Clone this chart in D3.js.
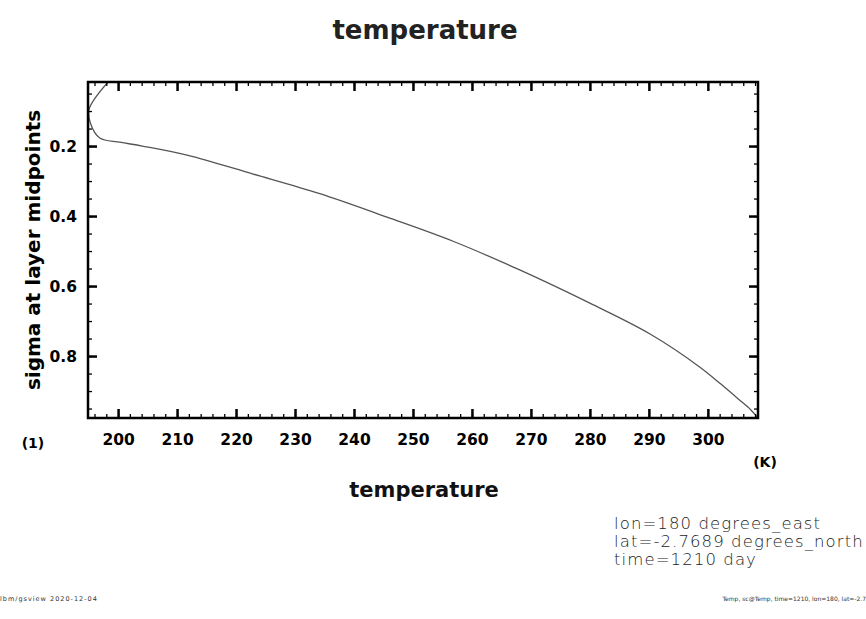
<!DOCTYPE html>
<html>
<head>
<meta charset="utf-8">
<script src="https://cdn.jsdelivr.net/npm/d3@7"></script>
<style>
  body { margin: 0; background: #fff; }
</style>
</head>
<body>
<svg id="chart"></svg>
<script>
// temperature profile (K) against sigma level
var sigma = [0.017, 0.094, 0.134, 0.177, 0.189, 0.200, 0.226, 0.280, 0.336, 0.403, 0.472, 0.554, 0.649, 0.737, 0.831, 0.880, 0.926, 0.954, 0.977];
var temp  = [198.3, 195.1, 195.3, 196.9, 200.3, 204.1, 211.7, 222.9, 234.2, 245.6, 256.8, 268.1, 280.0, 290.2, 298.6, 302.2, 305.4, 307.3, 308.5];

var xTicks = [200, 210, 220, 230, 240, 250, 260, 270, 280, 290, 300];
var yTicks = [0.2, 0.4, 0.6, 0.8];

var width = 866;
var height = 619;
var plot = { left: 88, right: 758, top: 82, bottom: 418 };

var svg = d3.select("#chart")
            .attr("width", width)
            .attr("height", height);

var xScale = d3.scaleLinear()
               .domain([194.9, 308.5])
               .range([plot.left, plot.right]);

var yScale = d3.scaleLinear()
               .domain([0.017, 0.977])
               .range([plot.top, plot.bottom]);

// clip for the line
svg.append("clipPath")
   .attr("id", "clip")
   .append("rect")
   .attr("x", plot.left)
   .attr("y", plot.top)
   .attr("width", plot.right - plot.left)
   .attr("height", plot.bottom - plot.top);

var data = sigma.map(function(s, i){ return { s: s, t: temp[i] }; });

var line = d3.line()
             .x(function(d){ return xScale(d.t); })
             .y(function(d){ return yScale(d.s); })
             .curve(d3.curveCatmullRom.alpha(0.5));

svg.append("path")
   .datum(data)
   .attr("clip-path", "url(#clip)")
   .attr("d", line)
   .attr("fill", "none")
   .attr("stroke", "#555")
   .attr("stroke-width", 1.3);

// minor ticks
var xMinor = d3.range(196, 309, 2);
var yMinor = d3.range(0.05, 0.97, 0.05);

// Adding axes, ticks point inward on all four sides
var xBottom = d3.axisBottom(xScale).tickValues(xMinor).tickSize(-4).tickFormat("");
var xTop = d3.axisTop(xScale).tickValues(xMinor).tickSize(-4).tickFormat("");
var yLeft = d3.axisLeft(yScale).tickValues(yMinor).tickSize(-4).tickFormat("");
var yRight = d3.axisRight(yScale).tickValues(yMinor).tickSize(-4).tickFormat("");

svg.append("g").attr("class", "minor").attr("transform", "translate(0," + plot.bottom + ")").call(xBottom);
svg.append("g").attr("class", "minor").attr("transform", "translate(0," + plot.top + ")").call(xTop);
svg.append("g").attr("class", "minor").attr("transform", "translate(" + plot.left + ",0)").call(yLeft);
svg.append("g").attr("class", "minor").attr("transform", "translate(" + plot.right + ",0)").call(yRight);

var xMajB = d3.axisBottom(xScale).tickValues(xTicks).tickSize(-9).tickPadding(16).tickFormat(d3.format("d"));
var xMajT = d3.axisTop(xScale).tickValues(xTicks).tickSize(-9).tickFormat("");
var yMajL = d3.axisLeft(yScale).tickValues(yTicks).tickSize(-9).tickPadding(11).tickFormat(d3.format(".1f"));
var yMajR = d3.axisRight(yScale).tickValues(yTicks).tickSize(-9).tickFormat("");

svg.append("g").attr("class", "major").attr("transform", "translate(0," + plot.bottom + ")").call(xMajB);
svg.append("g").attr("class", "major").attr("transform", "translate(0," + plot.top + ")").call(xMajT);
svg.append("g").attr("class", "major").attr("transform", "translate(" + plot.left + ",0)").call(yMajL);
svg.append("g").attr("class", "major").attr("transform", "translate(" + plot.right + ",0)").call(yMajR);

svg.selectAll(".minor path, .major path").remove();
svg.selectAll(".minor line").attr("stroke", "#000").attr("stroke-width", 1.3);
svg.selectAll(".major line").attr("stroke", "#000").attr("stroke-width", 2.5);
svg.selectAll(".major").attr("font-family", null).attr("font-size", null);
svg.selectAll(".major text")
   .attr("fill", "#000")
   .style("font-size", "15.5px")
   .style("font-weight", "bold")
   .style("font-family", "'DejaVu Sans', sans-serif");

// frame
svg.append("rect")
   .attr("x", plot.left)
   .attr("y", plot.top)
   .attr("width", plot.right - plot.left)
   .attr("height", plot.bottom - plot.top)
   .attr("fill", "none")
   .attr("stroke", "#000")
   .attr("stroke-width", 2.5);

// title
svg.append("text")
   .attr("x", 425)
   .attr("y", 39)
   .attr("text-anchor", "middle")
   .style("font-size", "26px")
   .style("font-family", "'DejaVu Sans', sans-serif")
   .style("font-weight", "600")
   .attr("fill", "#222")
   .text("temperature");

// x axis label
svg.append("text")
   .attr("x", 424)
   .attr("y", 497)
   .attr("text-anchor", "middle")
   .style("font-size", "21px")
   .style("font-family", "'DejaVu Sans', sans-serif")
   .style("font-weight", "bold")
   .attr("fill", "#111")
   .text("temperature");

// y axis label
svg.append("text")
   .attr("transform", "translate(40,250) rotate(-90)")
   .attr("text-anchor", "middle")
   .style("font-size", "20px")
   .style("font-family", "'DejaVu Sans', sans-serif")
   .style("font-weight", "bold")
   .text("sigma at layer midpoints");

svg.append("text")
   .attr("x", 33)
   .attr("y", 448)
   .attr("text-anchor", "middle")
   .style("font-size", "14px")
   .style("font-weight", "bold")
   .style("font-family", "'DejaVu Sans', sans-serif")
   .text("(1)");

svg.append("text")
   .attr("x", 765)
   .attr("y", 467)
   .attr("text-anchor", "middle")
   .style("font-size", "14px")
   .style("font-weight", "bold")
   .style("font-family", "'DejaVu Sans', sans-serif")
   .text("(K)");

// info block
var info = ["lon=180 degrees_east", "lat=-2.7689 degrees_north", "time=1210 day"];
svg.selectAll(".info")
   .data(info)
   .enter()
   .append("text")
   .attr("class", "info")
   .attr("x", 614)
   .attr("y", function(d, i){ return 529 + i * 18; })
   .attr("fill", "#222")
   .style("font-size", "16.5px")
   .style("letter-spacing", "1.1px")
   .style("font-family", "'DejaVu Sans', sans-serif")
   .style("font-weight", "300")
   .text(function(d){ return d; });

// footer
svg.append("text")
   .attr("x", 0)
   .attr("y", 601)
   .attr("fill", "#333")
   .style("font-size", "6.5px")
   .style("letter-spacing", "1px")
   .style("font-family", "'DejaVu Sans', sans-serif")
   .text("lbm/gsview     2020-12-04");

svg.append("text")
   .attr("x", 866)
   .attr("y", 601)
   .attr("text-anchor", "end")
   .attr("fill", "#333")
   .style("font-size", "6px")
   .style("font-family", "'DejaVu Sans', sans-serif")
   .text("Temp, sc@Temp, time=1210, lon=180, lat=-2.7");
</script>
</body>
</html>
